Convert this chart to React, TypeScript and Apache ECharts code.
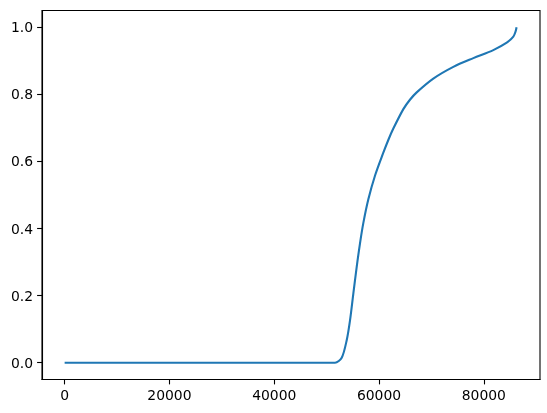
import React, { useEffect, useRef } from "react";
import * as echarts from "echarts";

const xValues = [0, 25000, 50500, 51600, 52880, 53840, 54470, 55100, 55740, 56370, 57000, 57960, 59240, 60820, 61770, 62730, 64640, 65900, 67190, 70360, 74180, 78000, 81810, 84370, 85630, 86050, 86250];
const yValues = [0, 0, 0, 0, 0.015, 0.068, 0.127, 0.207, 0.286, 0.356, 0.416, 0.487, 0.558, 0.626, 0.664, 0.698, 0.756, 0.784, 0.806, 0.847, 0.882, 0.908, 0.932, 0.954, 0.972, 0.987, 1.0];
const xTicks = [0, 20000, 40000, 60000, 80000];
const yTicks = [0, 0.2, 0.4, 0.6, 0.8, 1.0];
const xMax = 86400;

export default function App() {
  const ref = useRef<HTMLDivElement>(null);
  useEffect(() => {
    if (!ref.current) return;
    const chart = echarts.init(ref.current, null, { renderer: "svg" });
    const font = { fontFamily: "DejaVu Sans", fontSize: 13.9, color: "#000" };
    chart.setOption({
      animation: false,
      grid: { left: 42, right: 7, top: 10.5, bottom: 33.5, show: true, borderColor: "#000", borderWidth: 1.1, backgroundColor: "transparent" },
      xAxis: {
        type: "value",
        min: -0.05 * xMax,
        max: 1.05 * xMax,
        axisLine: { show: true, onZero: false, lineStyle: { color: "#000", width: 1.1 } },
        axisTick: { show: true, inside: false, length: 4.9, lineStyle: { color: "#000", width: 1.1 }, customValues: xTicks },
        axisLabel: { ...font, margin: 8, customValues: xTicks, formatter: (v: number) => String(Math.round(v)) },
        splitLine: { show: false },
      },
      yAxis: {
        type: "value",
        min: -0.05,
        max: 1.05,
        axisLine: { show: true, onZero: false, lineStyle: { color: "#000", width: 1.1 } },
        axisTick: { show: true, inside: false, length: 4.9, lineStyle: { color: "#000", width: 1.1 }, customValues: yTicks },
        axisLabel: { ...font, margin: 9, customValues: yTicks, formatter: (v: number) => v.toFixed(1) },
        splitLine: { show: false },
      },
      series: [
        {
          type: "line",
          data: xValues.map((x, i) => [x, yValues[i]]),
          showSymbol: false,
          smooth: 0.3,
          lineStyle: { color: "#1f77b4", width: 2.1 },
          itemStyle: { color: "#1f77b4" },
        },
      ],
    });
    return () => chart.dispose();
  }, []);
  return <div ref={ref} style={{ position: "fixed", left: 0, top: 0, width: 547, height: 413 }} />;
}
